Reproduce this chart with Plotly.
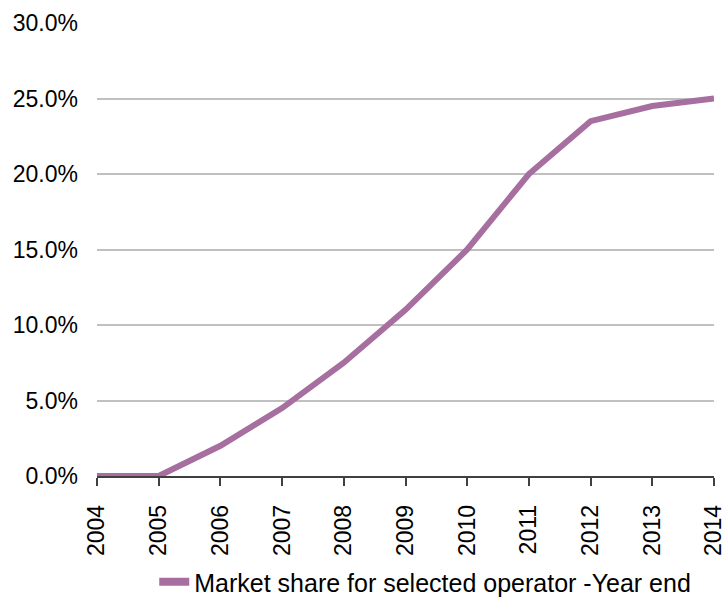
import plotly.graph_objects as go

years = [2004, 2005, 2006, 2007, 2008, 2009, 2010, 2011, 2012, 2013, 2014]
share = [0.0, 0.0, 2.0, 4.5, 7.5, 11.0, 15.0, 20.0, 23.5, 24.5, 25.0]
series_name = "Market share for selected operator -Year end"
line_color = "#A66FA0"

fig = go.Figure()
fig.add_trace(go.Scatter(
    x=years, y=share, mode="lines", name=series_name,
    line=dict(color=line_color, width=6),
    cliponaxis=False, showlegend=False,
))
# legend entry with a thicker swatch
fig.add_trace(go.Scatter(
    x=[None], y=[None], mode="lines", name=series_name,
    line=dict(color=line_color, width=8), showlegend=True,
))

font = dict(family="Liberation Sans, Arial, sans-serif", size=23, color="#000000")

fig.update_layout(
    width=725, height=605,
    margin=dict(l=97, r=11, t=23, b=129, autoexpand=False),
    paper_bgcolor="white", plot_bgcolor="white",
    font=font,
    showlegend=True,
    legend=dict(orientation="h", x=0.532, xanchor="center",
                yref="container", y=0.0, yanchor="bottom",
                bgcolor="rgba(0,0,0,0)",
                font=dict(family="Liberation Sans, Arial, sans-serif", size=25, color="#000000")),
    xaxis=dict(
        range=[2004, 2014], tickmode="array", tickvals=years,
        ticktext=[str(y) for y in years], tickangle=-90,
        showgrid=False, zeroline=False, automargin=False,
        showline=True, linecolor="#404040", linewidth=1.5,
        ticks="outside", ticklen=8, tickcolor="#404040", tickwidth=1.5,
        ticklabelstandoff=10, ticklabeloverflow="allow",
    ),
    yaxis=dict(
        range=[0, 30], tickvals=[0, 5, 10, 15, 20, 25, 30],
        ticktext=["0.0%", "5.0%", "10.0%", "15.0%", "20.0%", "25.0%", "30.0%"],
        showgrid=True, gridcolor="#C0C0C0", gridwidth=2,
        zeroline=False, showline=False, ticks="", automargin=False,
        ticklabelstandoff=18,
    ),
)

fig.write_html("out.html")
